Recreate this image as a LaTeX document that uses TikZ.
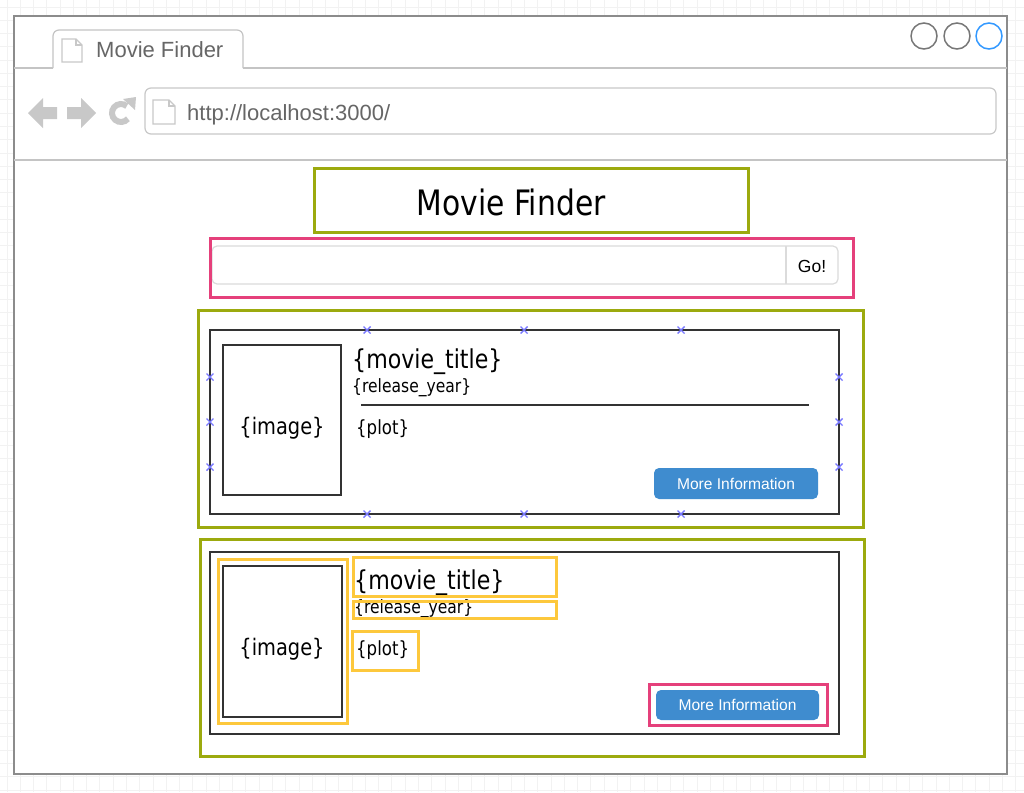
\documentclass[tikz,border=0pt]{standalone}
\usepackage{fontspec}
\setmainfont{Liberation Sans}
\newfontfamily\tahoma[FakeStretch=0.85]{DejaVu Sans}
\usetikzlibrary{positioning}

\definecolor{mockgreen}{HTML}{9CAA0E}
\definecolor{mockpink}{HTML}{E5407B}
\definecolor{mockyellow}{HTML}{FDC83C}
\definecolor{btnblue}{HTML}{3F8CCF}
\definecolor{chrome}{HTML}{C4C4C4}
\definecolor{framegray}{HTML}{8C8C8C}
\definecolor{dotgray}{HTML}{777777}
\definecolor{winblue}{HTML}{3399FF}
\definecolor{icongray}{HTML}{C8C8C8}
\definecolor{handleblue}{HTML}{7878FF}
\definecolor{labelgray}{HTML}{666666}

\begin{document}
\begin{tikzpicture}[x=1pt, y=-1pt]

	\tikzstyle{gridline}=[draw=black!5, line width=0.8]
	\tikzstyle{greenbox}=[draw=mockgreen, line width=3]
	\tikzstyle{pinkbox}=[draw=mockpink, line width=3]
	\tikzstyle{yellowbox}=[draw=mockyellow, line width=3]
	\tikzstyle{cardline}=[draw=black!80, line width=1.2]
	\tikzstyle{inputline}=[draw=black!14, line width=1.2]
	\tikzstyle{handle}=[draw=handleblue, line width=1.4]
	\tikzstyle{chrometext}=[inner sep=0, text=labelgray, font=\fontsize{22}{26}\selectfont]
	\tikzstyle{titletext}=[inner sep=0, text=black, font=\tahoma\fontsize{35}{40}\selectfont]
	\tikzstyle{movietext}=[inner sep=0, text=black, font=\tahoma\fontsize{26}{30}\selectfont]
	\tikzstyle{yeartext}=[inner sep=0, text=black, font=\tahoma\fontsize{18.3}{22}\selectfont]
	\tikzstyle{imgtext}=[inner sep=0, text=black, font=\tahoma\fontsize{22.8}{26}\selectfont]
	\tikzstyle{plottext}=[inner sep=0, text=black, font=\tahoma\fontsize{19.5}{23}\selectfont]
	\tikzstyle{gotext}=[inner sep=0, text=black, font=\fontsize{17.5}{20}\selectfont]
	\tikzstyle{button}=[rectangle, rounded corners=5, fill=btnblue, text=white, inner sep=0, font=\fontsize{15.6}{18}\selectfont]

	\useasboundingbox (0,0) rectangle (1024,792);

	% background grid
	\foreach \i in {0,...,76} {
		\draw[gridline] ({7+13.27*\i},0) -- ({7+13.27*\i},792);
	}
	\foreach \i in {0,...,59} {
		\draw[gridline] (0,{7+13.27*\i}) -- (1024,{7+13.27*\i});
	}

	% browser window
	\draw[framegray, line width=1.5, fill=white] (14,16) rectangle (1007,774);
	\draw[chrome, line width=1.2] (14,68) -- (53,68);
	\draw[chrome, line width=1.2, rounded corners=6] (53,68) -- (53,30) -- (243,30) -- (243,68);
	\draw[chrome, line width=1.2] (243,68) -- (1007,68);
	\draw[chrome, line width=1.2] (14,160) -- (1007,160);

	% page icons
	\foreach \px/\py/\w/\h in {62/39/20/23, 153/100/22/24} {
		\draw[icongray, line width=1.3, fill=white] (\px,\py) -- ({\px+\w-6},\py) -- ({\px+\w},{\py+6}) -- ({\px+\w},{\py+\h}) -- (\px,{\py+\h}) -- cycle;
		\draw[icongray, line width=1.3] ({\px+\w-6},\py) -- ({\px+\w-6},{\py+6}) -- ({\px+\w},{\py+6});
	}
	\node[chrometext, anchor=base west] (tab) at (96,57) {Movie Finder};

	% window buttons
	\foreach \cx in {924,957} {
		\draw[dotgray, line width=1.5] (\cx,36) circle[radius=13];
	}
	\draw[winblue, line width=1.5] (989,36) circle[radius=13];

	% navigation icons
	\fill[icongray] (28,113) -- (43,98) -- (43,107) -- (57,107) -- (57,119) -- (43,119) -- (43,128) -- cycle;
	\fill[icongray] (96,113) -- (81,98) -- (81,107) -- (67,107) -- (67,119) -- (81,119) -- (81,128) -- cycle;
	\draw[icongray, line width=6] (121,113) ++(40:9) arc[start angle=40, end angle=310, radius=9];
	\fill[icongray] (123,99) -- (136,97) -- (135,110) -- cycle;

	% address bar
	\draw[icongray, line width=1.2, rounded corners=6] (145,88) rectangle (996,134);
	\node[chrometext, anchor=base west] (url) at (187,120) {http://localhost:3000/};

	% page title
	\draw[greenbox] (314,168) rectangle (748,232);
	\node[titletext, anchor=base] (title) at (511,215) {Movie Finder};

	% search field
	\draw[inputline, rounded corners=5] (212,246) rectangle (838,284);
	\draw[inputline] (786,246) -- (786,284);
	\node[gotext] (go) at (812,266) {Go!};
	\draw[pinkbox] (210,238) rectangle (853,297);

	% first result card
	\draw[greenbox] (198,310) rectangle (863,527);
	\draw[cardline] (210,330) rectangle (839,514);
	\draw[cardline] (223,345) rectangle (341,495);
	\node[imgtext, anchor=base] (img1) at (282,434) {\{image\}};
	\node[movietext, anchor=base west] (name1) at (352,368) {\{movie\_title\}};
	\node[yeartext, anchor=base west] (year1) at (352,392) {\{release\_year\}};
	\draw[cardline] (361,405) -- (809,405);
	\node[plottext, anchor=base west] (plot1) at (356,434) {\{plot\}};
	\node[button, minimum width=164, minimum height=31] (more1) at (736,483.5) {More Information};
	\foreach \mx in {367,524,681} {
		\foreach \my in {330,514} {
			\draw[handle] ({\mx-3.5},{\my-3.5}) -- ({\mx+3.5},{\my+3.5}) ({\mx-3.5},{\my+3.5}) -- ({\mx+3.5},{\my-3.5});
		}
	}
	\foreach \mx in {210,839} {
		\foreach \my in {377,422,467} {
			\draw[handle] ({\mx-3.5},{\my-3.5}) -- ({\mx+3.5},{\my+3.5}) ({\mx-3.5},{\my+3.5}) -- ({\mx+3.5},{\my-3.5});
		}
	}

	% second result card
	\draw[greenbox] (200,539) rectangle (864,756);
	\draw[cardline] (210,552) rectangle (839,734);
	\draw[cardline] (223,566) rectangle (342,717);
	\node[imgtext, anchor=base] (img2) at (282,655) {\{image\}};
	\node[movietext, anchor=base west] (name2) at (354,589) {\{movie\_title\}};
	\node[yeartext, anchor=base west] (year2) at (354,613) {\{release\_year\}};
	\node[plottext, anchor=base west] (plot2) at (356,655) {\{plot\}};
	\node[button, minimum width=163, minimum height=30] (more2) at (737.5,705) {More Information};
	\draw[yellowbox] (218,559) rectangle (347,723);
	\draw[yellowbox] (353,557) rectangle (556,596);
	\draw[yellowbox] (353,601) rectangle (556,618);
	\draw[yellowbox] (352,631) rectangle (418,670);
	\draw[pinkbox] (649,684) rectangle (827,725);

\end{tikzpicture}
\end{document}
